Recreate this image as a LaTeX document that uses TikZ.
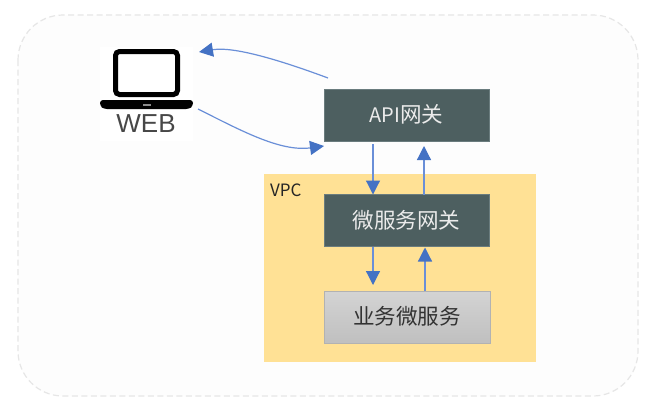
\documentclass[tikz,border=0pt]{standalone}
\usepackage{fontspec}
\setmainfont{Noto Sans CJK SC}
\newfontfamily\latinsans{Liberation Sans}
\usetikzlibrary{arrows.meta}
\definecolor{darkbox}{HTML}{4D5F60}
\definecolor{darkedge}{HTML}{6A7C7E}
\definecolor{vpcfill}{HTML}{FFE195}
\definecolor{arrowblue}{HTML}{4472C4}
\definecolor{curveblue}{HTML}{6A8FD8}
\definecolor{outerfill}{HTML}{FDFDFD}
\definecolor{outeredge}{HTML}{E6E6E6}
\tikzset{
  gatebox/.style={draw=darkedge,line width=0.6pt,fill=darkbox,text=white!92!black,outer sep=0pt,inner sep=0pt,
    minimum width=165pt,minimum height=52pt,font=\fontsize{21.6}{25}\selectfont},
  svcbox/.style={draw=black!30,line width=0.8pt,top color=black!17,bottom color=black!25,text=black!80,outer sep=0pt,inner sep=0pt,
    minimum width=166pt,minimum height=52pt,font=\fontsize{21.6}{25}\selectfont},
  flow/.style={draw=curveblue,line width=1.2pt,-{Triangle[length=14pt,width=14pt,color=arrowblue]}},
  vflow/.style={flow,draw=curveblue,-{Triangle[length=14pt,width=14pt,color=arrowblue]}},
}
\begin{document}
\begin{tikzpicture}[x=1pt,y=-1pt]
\useasboundingbox (0,0) rectangle (661,415);
\fill[white] (0,0) rectangle (661,415);
\draw[outeredge,fill=outerfill,line width=1.2pt,dash pattern=on 6pt off 3.5pt,rounded corners=45pt] (18,15) rectangle (638,396);
\node[fill=vpcfill,minimum width=272pt,minimum height=188pt,inner sep=0pt,outer sep=0pt] (vpc) at (400,268) {};
\node[anchor=north west,inner sep=0pt,font=\fontsize{17}{19}\selectfont,text=black!85] (vpclabel) at (270,184) {VPC};
\node[fill=white,minimum width=93pt,minimum height=94pt,inner sep=0pt,outer sep=0pt] (web) at (146.5,94) {};
% laptop icon
\draw[black,line width=5pt,rounded corners=4pt] (115.5,51.5) rectangle (177.5,94.5);
\fill[black,rounded corners=3pt] (100,100) -- (193,100) -- (193,106) -- (189,109) -- (104,109) -- (100,106) -- cycle;
\fill[black!45] (143,104) rectangle (151,106);
\node[inner sep=0pt,font=\latinsans\fontsize{26}{26}\selectfont,text=black!72] (weblabel) at (146,124) {WEB};
\node[gatebox] (api) at (406.5,115) {\raisebox{2.5pt}{{\fontsize{20}{25}\selectfont API}网关}};
\node[gatebox] (mgw) at (406.5,220.5) {\raisebox{2.5pt}{微服务网关}};
\node[svcbox] (svc) at (407,317) {\raisebox{3pt}{业务微服务}};
\coordinate (apiout) at ([xshift=4pt,yshift=11pt]api.north west);
\coordinate (apiin) at ([yshift=-5pt]api.south west);
\coordinate (webin) at ([xshift=6pt,yshift=42pt]web.east);
\coordinate (webout) at ([xshift=5pt,yshift=-15pt]web.east);
\draw[flow] (apiout) .. controls (285,62) and (235,46) .. (webin);
\draw[flow] (webout) .. controls (240,130) and (280,152) .. (apiin);
\draw[vflow] ([xshift=-33.5pt,yshift=-3pt]api.south) -- ([xshift=-33.5pt]mgw.north);
\draw[vflow] ([xshift=17.5pt]mgw.north) -- ([xshift=17.5pt,yshift=-5pt]api.south);
\draw[vflow] ([xshift=-33.5pt]mgw.south) -- ([xshift=-34pt,yshift=6pt]svc.north);
\draw[vflow] ([xshift=18pt]svc.north) -- ([xshift=18.5pt,yshift=-1pt]mgw.south);
\end{tikzpicture}
\end{document}
